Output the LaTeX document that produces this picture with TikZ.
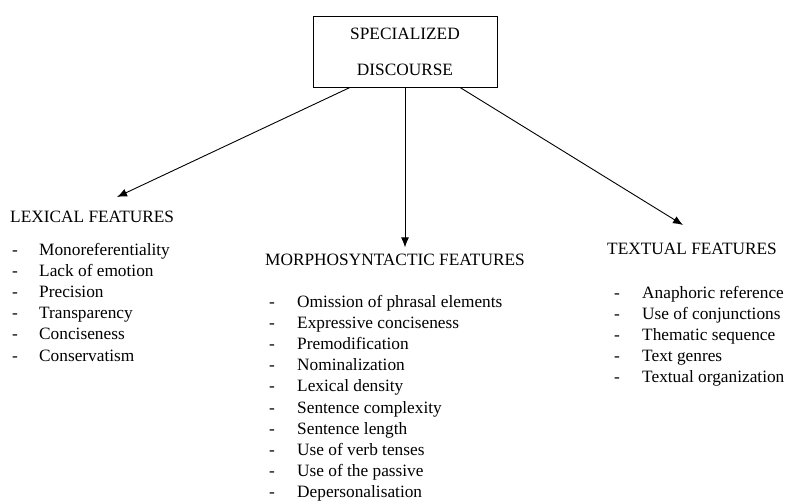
\documentclass[tikz,border=0pt]{standalone}
\usepackage{fontspec}
\setmainfont{Liberation Serif}
\usetikzlibrary{positioning,calc,arrows.meta}

\tikzset{
  every node/.style={font=\fontsize{17.3}{21.4}\selectfont, inner sep=0pt},
  title/.style={anchor=base west},
  dashmark/.style={anchor=base west},
  item/.style={anchor=base west},
  arr/.style={line width=0.9pt, -{Latex[length=10pt,width=8pt]}}
}

\begin{document}
\begin{tikzpicture}[x=1pt, y=-1pt]
    \useasboundingbox (0, 0) rectangle (785, 503);
    % top box
    \node (sd) [draw, line width=0.9pt, minimum width=184pt, minimum height=71pt,
                align=center, font=\fontsize{17.3}{36}\selectfont] at (405, 51.5)
          {SPECIALIZED\\DISCOURSE};
    % titles
    \node (lex) [title] at (10, 222) {LEXICAL FEATURES};
    \node (mor) [title] at (265, 265) {MORPHOSYNTACTIC FEATURES};
    \node (txt) [title] at (607, 254) {TEXTUAL FEATURES};
    % lists
    \foreach \t [count=\i] in {Monoreferentiality, Lack of emotion, Precision,
        Transparency, Conciseness, Conservatism} {
      \node (lexd\i) [dashmark] at (12, 255+21.2*\i-21.2) {-};
      \node (lexi\i) [item] at (39, 255+21.2*\i-21.2) {\t};
    }
    \foreach \t [count=\i] in {Omission of phrasal elements, Expressive conciseness,
        Premodification, Nominalization, Lexical density, Sentence complexity,
        Sentence length, Use of verb tenses, Use of the passive, Depersonalisation} {
      \node (mord\i) [dashmark] at (269, 307+21.2*\i-21.2) {-};
      \node (mori\i) [item] at (297, 307+21.2*\i-21.2) {\t};
    }
    \foreach \t [count=\i] in {Anaphoric reference, Use of conjunctions,
        Thematic sequence, Text genres, Textual organization} {
      \node (txtd\i) [dashmark] at (614, 298+21.2*\i-21.2) {-};
      \node (txti\i) [item] at (642, 298+21.2*\i-21.2) {\t};
    }
    % arrows
    \coordinate (lexend) at (117, 197);
    \coordinate (txtend) at (683, 225);
    \draw[arr] ($(sd.south)+(-55,0)$) -- (lexend);
    \draw[arr] (sd.south) -- ($(mor.north -| sd.south)+(0,-6)$);
    \draw[arr] ($(sd.south)+(55,0)$) -- (txtend);
\end{tikzpicture}
\end{document}
